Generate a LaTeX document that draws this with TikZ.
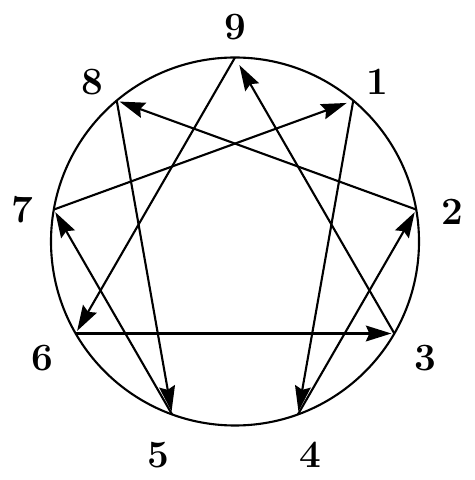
\documentclass[tikz,border=0pt]{standalone}
\usetikzlibrary{arrows.meta}
\usetikzlibrary{calc}
\tikzset{
pt/.style={
  coordinate
  },
num/.style={
  inner sep=0pt,
  font=\fontsize{22}{26}\selectfont\bfseries
  },
ln/.style={
  -{Stealth[length=14.5pt,width=9pt,inset=2pt]},
  shorten >=1.7pt
  }
}

\begin{document}
\begin{tikzpicture}[x=0.02cm,y=0.02cm,line width=1.2pt,line join=round]
    \useasboundingbox (0,0) rectangle (474,480);
    \coordinate (c) at (235,238.5);
    \draw (c) circle [radius=184];
    % points on the circle and their numbers
    \foreach \n/\a/\la/\d in {9/90/90/214, 1/50/48.3/214, 2/10/7.7/219,
        3/-30/-31.5/223, 4/-70/-70.6/226, 5/-110/-109.8/227,
        6/-150/-148.9/225, 7/170/171.6/215, 8/130/131.9/214}{
      \node[pt] (p\n) at ($(c)+(\a:184)$) {};
      \node[num] (l\n) at ($(c)+(\la:\d)$) {\n};
    }
    % inner triangle
    \draw[ln] (p9) -- (p6);
    \draw[ln] (p6) -- (p3);
    \draw[ln,shorten >=5pt] (p3) -- (p9);
    % hexad
    \draw[ln] (p1) -- (p4);
    \draw[ln] (p4) -- (p2);
    \draw[ln] (p2) -- (p8);
    \draw[ln] (p8) -- (p5);
    \draw[ln] (p5) -- (p7);
    \draw[ln,shorten >=4pt] (p7) -- (p1);
\end{tikzpicture}
\end{document}
